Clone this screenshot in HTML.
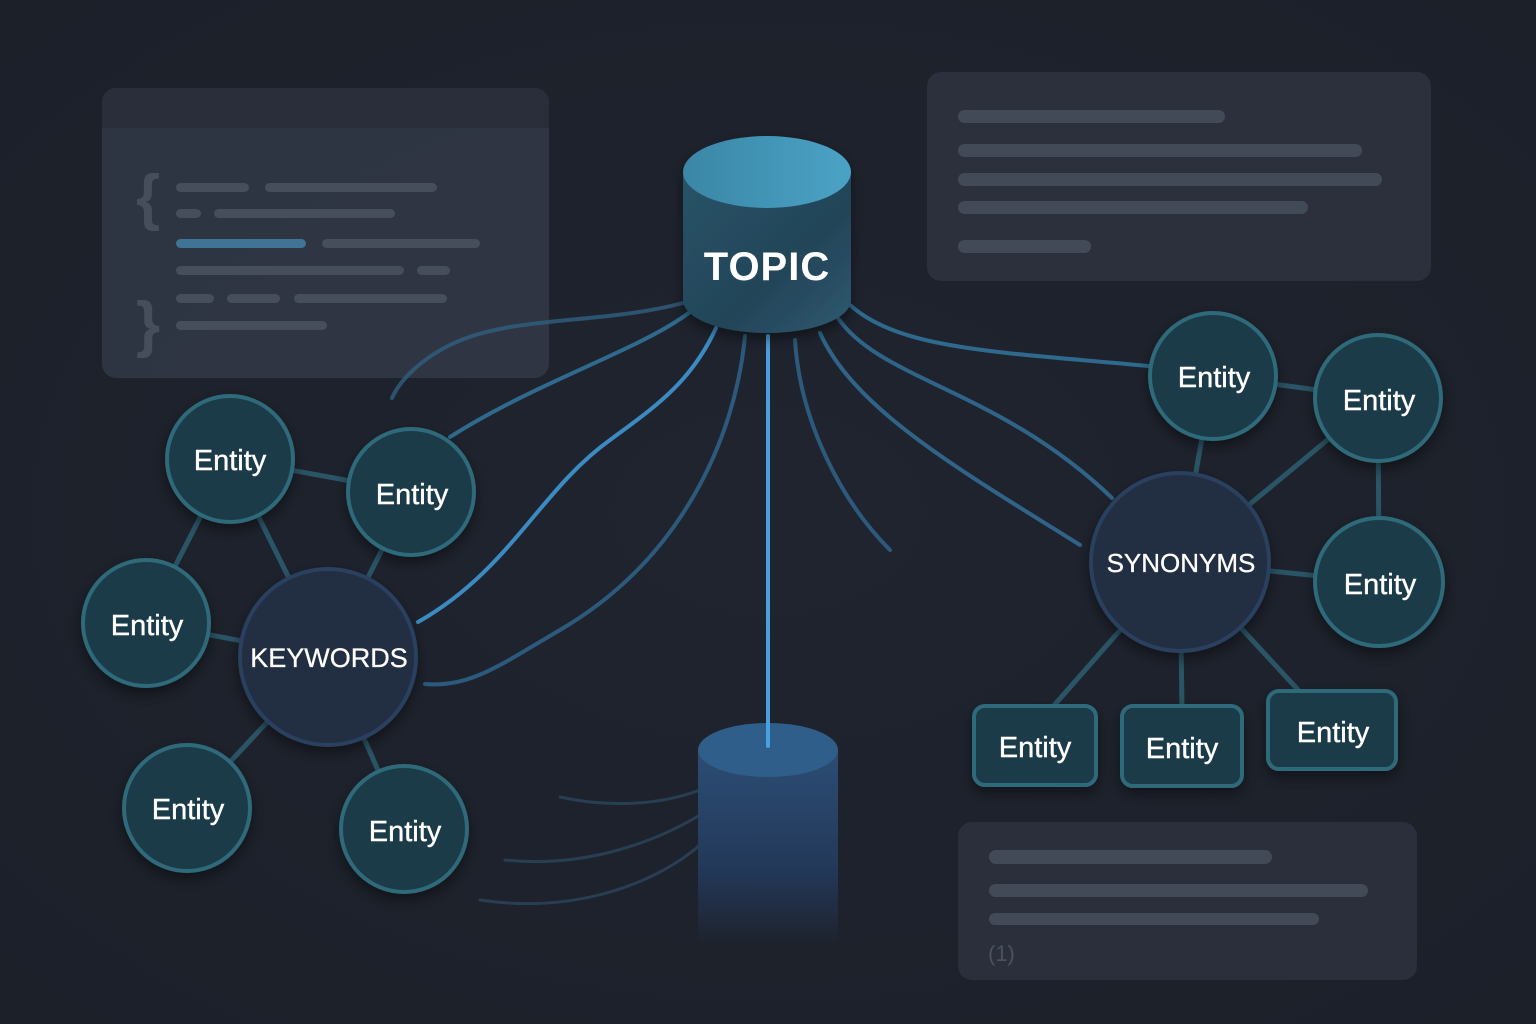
<!DOCTYPE html>
<html><head><meta charset="utf-8"><style>
html,body{margin:0;padding:0;background:#1e222c;}
svg{display:block;}
text{font-family:"Liberation Sans","DejaVu Sans",sans-serif;fill:#fff;}
</style></head><body>
<svg width="1536" height="1024" viewBox="0 0 1536 1024" xmlns="http://www.w3.org/2000/svg">
<defs>
<radialGradient id="bg" cx="50%" cy="50%" r="70%"><stop offset="0" stop-color="#20242f"/><stop offset="1" stop-color="#1c2029"/></radialGradient>
<linearGradient id="cylTop" x1="0" y1="0" x2="1" y2="0"><stop offset="0" stop-color="#3b86a6"/><stop offset="1" stop-color="#4aa3c6"/></linearGradient>
<linearGradient id="cylBody" x1="0" y1="0" x2="1" y2="1"><stop offset="0" stop-color="#285468"/><stop offset="0.6" stop-color="#234458"/><stop offset="1" stop-color="#2f5a70"/></linearGradient>
<linearGradient id="low" x1="0" y1="0" x2="0" y2="1"><stop offset="0" stop-color="#2c4d74"/><stop offset="0.6" stop-color="#23395a"/><stop offset="1" stop-color="#1e222c"/></linearGradient>
<filter id="sh" x="-30%" y="-30%" width="160%" height="160%"><feDropShadow dx="0" dy="6" stdDeviation="7" flood-color="#000" flood-opacity="0.45"/></filter>
</defs>
<rect width="1536" height="1024" fill="url(#bg)"/>

<!-- left panel -->
<rect x="102" y="88" width="447" height="290" rx="14" fill="#313745" opacity="0.9"/>
<path d="M116,88 H535 a14,14 0 0 1 14,14 V128 H102 V102 a14,14 0 0 1 14,-14z" fill="#292e3a"/>
<g fill="#464e5c">
<rect x="176" y="183" width="73" height="9" rx="4.5"/><rect x="265" y="183" width="172" height="9" rx="4.5"/>
<rect x="176" y="209" width="25" height="9" rx="4.5"/><rect x="214" y="209" width="181" height="9" rx="4.5"/>
<rect x="322" y="239" width="158" height="9" rx="4.5"/>
<rect x="176" y="266" width="228" height="9" rx="4.5"/><rect x="417" y="266" width="33" height="9" rx="4.5"/>
<rect x="176" y="294" width="38" height="9" rx="4.5"/><rect x="227" y="294" width="53" height="9" rx="4.5"/><rect x="294" y="294" width="153" height="9" rx="4.5"/>
<rect x="176" y="321" width="151" height="9" rx="4.5"/>
</g>
<rect x="176" y="239" width="130" height="9" rx="4.5" fill="#3f7496"/>
<text x="136" y="218" font-size="62" font-weight="bold" style="fill:#464e5c">{</text>
<text x="136" y="345" font-size="62" font-weight="bold" style="fill:#464e5c">}</text>

<!-- right top panel -->
<rect x="927" y="72" width="504" height="209" rx="14" fill="#2b303c"/>
<g fill="#434a57">
<rect x="958" y="110" width="267" height="13" rx="6.5"/>
<rect x="958" y="144" width="404" height="13" rx="6.5"/>
<rect x="958" y="173" width="424" height="13" rx="6.5"/>
<rect x="958" y="201" width="350" height="13" rx="6.5"/>
<rect x="958" y="240" width="133" height="13" rx="6.5"/>
</g>

<!-- bottom right panel -->
<rect x="958" y="822" width="459" height="158" rx="14" fill="#2a2f3b"/>
<g fill="#434a57">
<rect x="989" y="850" width="283" height="14" rx="7"/>
<rect x="989" y="884" width="379" height="13" rx="6.5"/>
<rect x="989" y="913" width="330" height="12" rx="6"/>
</g>
<text x="988" y="961" font-size="22" style="fill:#4a5260">(1)</text>

<!-- connectors from topic -->
<g fill="none" stroke-linecap="round">
<path d="M683,303 C600,325 510,315 450,345 C420,360 400,380 392,398" stroke="#2f5f80" stroke-width="4" opacity="0.8"/>
<path d="M690,312 C640,350 540,380 450,437" stroke="#2f6a8e" stroke-width="4"/>
<path d="M716,328 C690,385 650,410 610,440 C540,490 510,570 418,622" stroke="#3b8ac2" stroke-width="4"/>
<path d="M745,336 C735,440 680,560 560,630 C500,665 470,688 425,684" stroke="#2c5a7c" stroke-width="4"/>
<path d="M795,340 C800,420 840,500 890,550" stroke="#2c5a7c" stroke-width="4"/>
<path d="M820,333 C855,410 960,470 1080,545" stroke="#2f6488" stroke-width="4"/>
<path d="M838,318 C880,380 1000,390 1112,498" stroke="#2f6488" stroke-width="4"/>
<path d="M850,305 C900,350 1000,352 1148,366" stroke="#2f6a8e" stroke-width="4"/>
<path d="M560,797 C610,808 660,805 700,790" stroke="#283e52" stroke-width="3"/>
<path d="M505,860 C580,868 650,845 700,815" stroke="#283e52" stroke-width="3"/>
<path d="M480,900 C580,915 660,880 700,845" stroke="#283e52" stroke-width="3"/>
</g>

<!-- lower cylinder -->
<path d="M698,750 V945 H838 V750z" fill="url(#low)"/>
<ellipse cx="768" cy="750" rx="70" ry="27" fill="#2f5e8a"/>
<line x1="768" y1="336" x2="768" y2="746" stroke="#4aa0dc" stroke-width="4" stroke-linecap="round"/>

<!-- topic cylinder -->
<g filter="url(#sh)">
<path d="M683,172 V300 A84,33 0 0 0 851,300 V172z" fill="url(#cylBody)"/>
<ellipse cx="767" cy="172" rx="84" ry="36" fill="url(#cylTop)"/>
</g>
<text x="767" y="280" font-size="40" font-weight="bold" text-anchor="middle" letter-spacing="1">TOPIC</text>

<!-- left cluster edges -->
<g stroke="#2a5566" stroke-width="5">
<line x1="230" y1="459" x2="411" y2="492"/>
<line x1="230" y1="459" x2="146" y2="623"/>
<line x1="230" y1="459" x2="328" y2="657"/>
<line x1="411" y1="492" x2="328" y2="657"/>
<line x1="146" y1="623" x2="328" y2="657"/>
<line x1="187" y1="808" x2="328" y2="657"/>
<line x1="404" y1="829" x2="328" y2="657"/>
</g>
<!-- right cluster edges -->
<g stroke="#2a5566" stroke-width="5">
<line x1="1213" y1="376" x2="1378" y2="398"/>
<line x1="1213" y1="376" x2="1180" y2="562"/>
<line x1="1378" y1="398" x2="1180" y2="562"/>
<line x1="1378" y1="398" x2="1379" y2="582"/>
<line x1="1379" y1="582" x2="1180" y2="562"/>
<line x1="1180" y1="562" x2="1050" y2="710"/>
<line x1="1180" y1="562" x2="1182" y2="710"/>
<line x1="1180" y1="562" x2="1300" y2="692"/>
</g>

<!-- nodes -->
<g filter="url(#sh)" stroke-width="4">
<circle cx="328" cy="657" r="88" fill="#212d42" stroke="#2a3f5e"/>
<circle cx="1180" cy="562" r="89" fill="#212d42" stroke="#2a3f5e"/>
<g fill="#1b3a48" stroke="#2e6a7a">
<circle cx="230" cy="459" r="63"/>
<circle cx="411" cy="492" r="63"/>
<circle cx="146" cy="623" r="63"/>
<circle cx="187" cy="808" r="63"/>
<circle cx="404" cy="829" r="63"/>
<circle cx="1213" cy="376" r="63"/>
<circle cx="1378" cy="398" r="63"/>
<circle cx="1379" cy="582" r="64"/>
<rect x="974" y="706" width="122" height="79" rx="11"/>
<rect x="1122" y="706" width="120" height="80" rx="11"/>
<rect x="1268" y="691" width="128" height="78" rx="11"/>
</g>
</g>

<g font-size="29" text-anchor="middle" style="stroke:#fff;stroke-width:0.4">
<text x="230" y="470">Entity</text>
<text x="412" y="504">Entity</text>
<text x="147" y="635">Entity</text>
<text x="188" y="819">Entity</text>
<text x="405" y="841">Entity</text>
<text x="1214" y="387">Entity</text>
<text x="1379" y="410">Entity</text>
<text x="1380" y="594">Entity</text>
<text x="1035" y="757">Entity</text>
<text x="1182" y="758">Entity</text>
<text x="1333" y="742">Entity</text>
</g>
<text x="329" y="667" font-size="27" text-anchor="middle" style="stroke:#fff;stroke-width:0.3">KEYWORDS</text>
<text x="1181" y="572" font-size="26" text-anchor="middle" style="stroke:#fff;stroke-width:0.3">SYNONYMS</text>
</svg>
</body></html>
